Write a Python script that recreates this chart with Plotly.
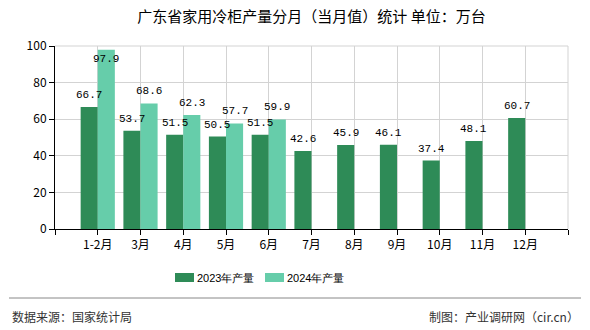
import plotly.graph_objects as go

categories = ["1-2月", "3月", "4月", "5月", "6月", "7月", "8月", "9月", "10月", "11月", "12月"]
values_2023 = [66.7, 53.7, 51.5, 50.5, 51.5, 42.6, 45.9, 46.1, 37.4, 48.1, 60.7]
values_2024 = [97.9, 68.6, 62.3, 57.7, 59.9, None, None, None, None, None, None]
series_names = ["2023年产量", "2024年产量"]
colors = ["#2E8B57", "#66CDAA"]
title_text = "广东省家用冷柜产量分月（当月值）统计 单位：万台"
source_text = "数据来源：国家统计局"
maker_text = "制图：产业调研网（cir.cn）"

xs = list(range(len(categories)))

fig = go.Figure()
for name, vals, col in zip(series_names, [values_2023, values_2024], colors):
    fig.add_trace(go.Bar(x=xs, y=vals, name=name, marker=dict(color=col, line=dict(width=0)),
                         showlegend=False))

# value labels
label_font = dict(family="Liberation Mono, DejaVu Sans Mono, monospace", size=11, color="#000")
annotations = []
for off, vals in [(-0.2, values_2023), (0.2, values_2024)]:
    for i, v in enumerate(vals):
        if v is None:
            continue
        if v > 90:
            annotations.append(dict(x=i + off, y=v, text=f"{v:.1f}", showarrow=False, xref="x", yref="y",
                                    yanchor="top", yshift=-1, font=label_font))
        else:
            annotations.append(dict(x=i + off, y=v, text=f"{v:.1f}", showarrow=False, xref="x", yref="y",
                                    yanchor="bottom", yshift=4, font=label_font))

W, H = 590, 330
L, R, T, B = 55, 22, 46, 101
pw, ph = W - L - R, H - T - B

def px(xp):
    return (xp - L) / pw

def py(yp):
    return (H - B - yp) / ph

shapes = []
legend_font = dict(family="Liberation Sans, Arial, sans-serif", size=11, color="#000")
for name, col, sx in zip(series_names, colors, [175, 265]):
    shapes.append(dict(type="rect", xref="paper", yref="paper", x0=px(sx), x1=px(sx + 19),
                       y0=py(282), y1=py(273), fillcolor=col, line=dict(width=0)))
    annotations.append(dict(x=px(sx + 20), y=py(277.5), xref="paper", yref="paper", text=name,
                            showarrow=False, xanchor="left", yanchor="middle", font=legend_font))

# footer line
shapes.append(dict(type="line", xref="paper", yref="paper", x0=px(9), x1=px(581), y0=py(298), y1=py(298),
                   line=dict(color="#888", width=1)))
foot_font = dict(family="Noto Sans CJK SC, sans-serif", size=12, color="#333")
annotations.append(dict(x=px(10), y=py(316), xref="paper", yref="paper", text=source_text, showarrow=False,
                        xanchor="left", yanchor="middle", font=foot_font))
annotations.append(dict(x=px(581), y=py(316), xref="paper", yref="paper", text=maker_text, showarrow=False,
                        xanchor="right", yanchor="middle", font=foot_font))

tick_font = dict(family="Noto Sans CJK SC, sans-serif", size=12, color="#000")

fig.update_layout(
    width=W, height=H,
    margin=dict(l=L, r=R, t=T, b=B),
    paper_bgcolor="white", plot_bgcolor="white",
    barmode="group", bargap=0.2, bargroupgap=0,
    title=dict(text=title_text, x=0.5, xref="paper", xanchor="center", y=1 - 17 / H, yanchor="middle",
               font=dict(family="Noto Sans CJK SC, sans-serif", size=15, color="#000")),
    xaxis=dict(range=[-1, len(categories)], tickmode="array",
               tickvals=[-1] + xs + [len(categories)], ticktext=[""] + categories + [""],
               showgrid=True, gridcolor="#d3d3d3", gridwidth=1,
               showline=True, linecolor="#000", linewidth=1,
               ticks="outside", ticklen=5, tickcolor="#000", tickfont=tick_font, zeroline=False,
               mirror=False),
    yaxis=dict(range=[0, 100], tickvals=[0, 20, 40, 60, 80, 100],
               showgrid=True, gridcolor="#d3d3d3", gridwidth=1,
               showline=True, linecolor="#000", linewidth=1,
               ticks="outside", ticklen=5, tickcolor="#000", tickfont=tick_font, zeroline=False),
    shapes=shapes + [dict(type="line", xref="paper", yref="paper", x0=0, x1=1, y0=1, y1=1,
                          line=dict(color="#d3d3d3", width=1)),
                     dict(type="line", xref="paper", yref="paper", x0=1, x1=1, y0=0, y1=1,
                          line=dict(color="#d3d3d3", width=1))],
    annotations=annotations,
)

fig.write_html("out.html")
